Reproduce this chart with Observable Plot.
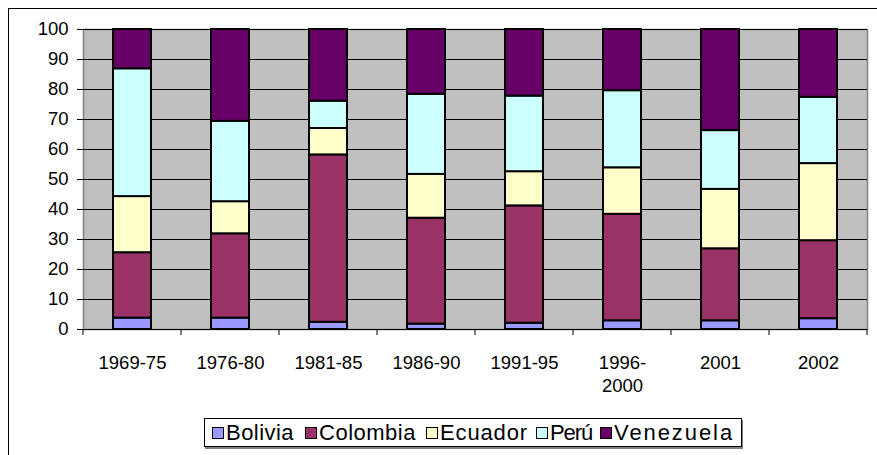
<!DOCTYPE html>
<html>
<head>
<meta charset="utf-8">
<script src="https://cdn.jsdelivr.net/npm/d3@7"></script>
<script src="https://cdn.jsdelivr.net/npm/@observablehq/plot@0.6"></script>
<style>
  html, body { margin: 0; padding: 0; background: #fff; overflow: hidden; }
  #wrap { position: relative; width: 877px; height: 455px; overflow: hidden; font-family: "Liberation Sans", Arial, sans-serif; }
  #frame { position: absolute; left: 8px; top: 8px; width: 1000px; height: 1000px; border: 1px solid #000; box-sizing: border-box; }
  #chart { position: absolute; left: 0; top: 0; }
  #legend { position: absolute; left: 204px; top: 418px; height: 29px; width: 538px; box-sizing: border-box;
            border: 1px solid #000; box-shadow: 1px 2px 0 #808080; background: #fff; font-size: 22px; color: #000; }
  .item { position: absolute; top: 0; height: 27px; display: flex; align-items: center; white-space: nowrap; }
  .sw { width: 10px; height: 10px; border: 1.5px solid #000; margin-right: 2px; flex: none; }
</style>
</head>
<body>
<div id="wrap">
  <div id="frame"></div>
  <div id="chart"></div>
  <div id="legend"></div>
</div>
<script>
const periods = ["1969-75", "1976-80", "1981-85", "1986-90", "1991-95", "1996-2000", "2001", "2002"];
const periodLabels = ["1969-75", "1976-80", "1981-85", "1986-90", "1991-95", "1996-\n2000", "2001", "2002"];
const countries = ["Bolivia", "Colombia", "Ecuador", "Perú", "Venezuela"];
const colors = ["#9999FF", "#993366", "#FFFFCC", "#CCFFFF", "#660066"];
const bolivia   = [3.8, 3.8, 2.4, 1.8, 2.1, 2.9, 2.9, 3.6];
const colombia  = [21.8, 28.1, 55.8, 35.3, 39.1, 35.5, 24.0, 26.0];
const ecuador   = [18.7, 10.7, 8.8, 14.6, 11.4, 15.5, 19.8, 25.7];
const peru      = [42.6, 26.8, 9.1, 26.7, 25.2, 25.7, 19.6, 22.1];
const venezuela = [13.1, 30.6, 23.9, 21.6, 22.2, 20.4, 33.7, 22.6];
const yTicks = [0, 10, 20, 30, 40, 50, 60, 70, 80, 90, 100];

// legend layout (styling only): left edge of each swatch inside the legend box, and text widths
const legendLeft = [7, 100, 221, 331, 395];
const legendTextWidth = [68, 97, 88, 42, 120];

const series = [bolivia, colombia, ecuador, peru, venezuela];
const data = [];
periods.forEach((p, i) => {
  countries.forEach((c, j) => data.push({period: p, country: c, value: series[j][i]}));
});
const labelOf = new Map(periods.map((p, i) => [p, periodLabels[i]]));

function xTickMarks(index, scales, values, dimensions) {
  const x = scales.x, y = scales.y;
  const bw = typeof x.bandwidth === "function" ? x.bandwidth() : x.bandwidth;
  const y0 = y(0);
  const g = d3.create("svg:g").attr("stroke", "#000").attr("stroke-width", 1);
  const bounds = periods.map(p => x(p)).concat([x(periods[periods.length - 1]) + bw]);
  bounds.forEach(b => {
    g.append("line").attr("x1", b).attr("x2", b).attr("y1", y0).attr("y2", y0 + 6);
  });
  return g.node();
}

const chart = Plot.plot({
  width: 877,
  height: 410,
  marginTop: 29,
  marginBottom: 81,
  marginLeft: 83,
  marginRight: 10,
  style: {fontFamily: "'Liberation Sans', Arial, sans-serif", fontSize: "18.5px", color: "#000", background: "transparent"},
  x: {domain: periods, padding: 0, axis: null},
  y: {domain: [0, 100], ticks: yTicks, tickSize: 6, tickPadding: 9, line: true, label: null},
  color: {domain: countries, range: colors},
  marks: [
    Plot.frame({fill: "#C0C0C0", stroke: "#808080", strokeWidth: 1.5}),
    Plot.ruleY(yTicks.filter(v => v > 0), {stroke: "#000", strokeWidth: 1.2}),
    Plot.barY(data, {x: "period", y: "value", fill: "country", stroke: "#000", strokeWidth: 2, insetLeft: 30, insetRight: 30}),
    Plot.ruleY([0], {stroke: "#000", strokeWidth: 1}),
    xTickMarks,
    Plot.text(periods, {x: d => d, text: d => labelOf.get(d), frameAnchor: "bottom", lineAnchor: "top", dy: 23, lineHeight: 1.25, fill: "#000", fontSize: 18.5})
  ]
});
document.getElementById("chart").appendChild(chart);

const legend = d3.select("#legend");
const ctx = document.createElement("canvas").getContext("2d");
ctx.font = "22px 'Liberation Sans', Arial, sans-serif";
countries.forEach((c, i) => {
  const it = legend.append("div").attr("class", "item").style("left", legendLeft[i] + "px");
  it.append("div").attr("class", "sw").style("background", colors[i]);
  const natural = ctx.measureText(c).width;
  const ls = (legendTextWidth[i] - natural) / c.length;
  it.append("span").text(c).style("letter-spacing", ls.toFixed(2) + "px");
});
</script>
</body>
</html>
